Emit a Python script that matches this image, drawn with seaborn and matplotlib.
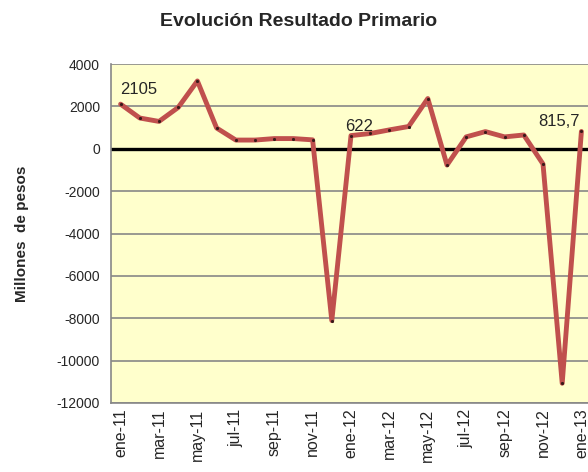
import numpy as np
import pandas as pd
import matplotlib
matplotlib.use("Agg")
import matplotlib.pyplot as plt
import seaborn as sns

# Datos mensuales (millones de pesos), ene-11 a ene-13
meses = ["ene-11", "feb-11", "mar-11", "abr-11", "may-11", "jun-11", "jul-11",
         "ago-11", "sep-11", "oct-11", "nov-11", "dic-11",
         "ene-12", "feb-12", "mar-12", "abr-12", "may-12", "jun-12", "jul-12",
         "ago-12", "sep-12", "oct-12", "nov-12", "dic-12", "ene-13"]
resultado = [2105, 1450, 1290, 1950, 3200, 980, 410, 410, 480, 480, 420, -8110,
             622, 720, 890, 1050, 2370, -770, 560, 810, 560, 650, -720, -11070, 815.7]
etiquetas = {0: "2105", 12: "622", 24: "815,7"}
ticks_y = [4000, 2000, 0, -2000, -4000, -6000, -8000, -10000, -12000]

df = pd.DataFrame({"pos": np.arange(len(meses)), "mes": meses, "valor": resultado})

sns.set_style("white")
plt.rcParams["font.family"] = ["Liberation Sans", "DejaVu Sans"]

fig = plt.figure(figsize=(5.88, 4.72), dpi=100)
ax = fig.add_axes([111 / 588, 69 / 472, 480 / 588, 339 / 472])
ax.set_facecolor("#FFFFCC")

for v in ticks_y:
    if v != 0:
        ax.axhline(v, color="#878787", lw=1.2, zorder=1)
ax.axhline(0, color="black", lw=2.4, zorder=2)

sns.lineplot(data=df, x="pos", y="valor", ax=ax, color="#C0504D", lw=3.5,
             marker="o", markersize=1.5, markerfacecolor="#3a1a1a",
             markeredgecolor="#3a1a1a", zorder=3)

# etiquetas de datos
ax.annotate(etiquetas[0], (0, resultado[0]), xytext=(0, 5), textcoords="offset points",
            ha="left", va="bottom", fontsize=12)
ax.annotate(etiquetas[12], (12, resultado[12]), xytext=(6, 1), textcoords="offset points",
            ha="center", va="bottom", fontsize=12)
ax.annotate(etiquetas[24], (24, resultado[24]), xytext=(-1, 2), textcoords="offset points",
            ha="right", va="bottom", fontsize=12)

ax.set_xlim(-0.5, 24.5)
ax.set_ylim(-12000, 4000)
ax.set_yticks(ticks_y)
ax.set_yticklabels([str(v) for v in ticks_y], fontsize=10)
ax.set_xticks(df["pos"][::2])
ax.set_xticklabels(df["mes"][::2], rotation=90, fontsize=11.5, va="top")
ax.tick_params(axis="y", length=4, color="#878787", width=1, pad=4)
ax.tick_params(axis="x", length=0, pad=4)

for s in ["left", "bottom"]:
    ax.spines[s].set_color("#878787")
    ax.spines[s].set_linewidth(1.2)
ax.spines["top"].set_visible(False)
ax.spines["right"].set_visible(False)

ax.set_xlabel("")
ax.set_ylabel("Millones  de pesos", fontsize=11, fontweight="bold", labelpad=20)
fig.text(299 / 588, 1 - 21 / 472, "Evolución Resultado Primario", ha="center", va="center",
         fontsize=14, fontweight="bold")

fig.savefig("out.png", dpi=100)
